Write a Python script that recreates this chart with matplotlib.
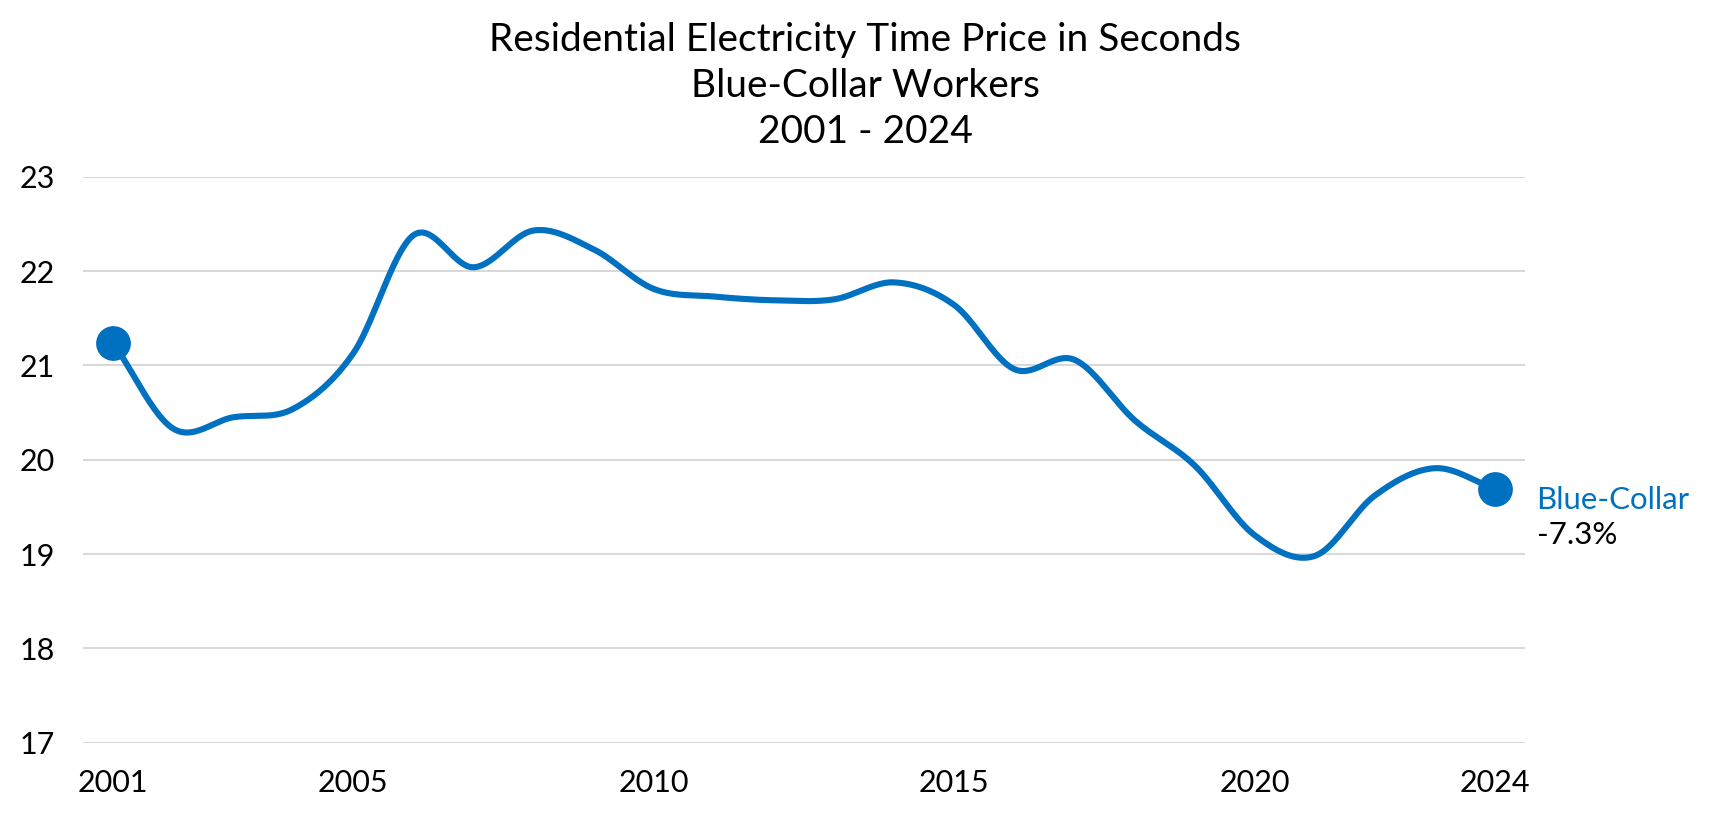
import numpy as np
import matplotlib
matplotlib.use("Agg")
import matplotlib.pyplot as plt

plt.rcParams['font.family'] = ['Lato', 'DejaVu Sans']

years = [2001, 2002, 2003, 2004, 2005, 2006, 2007, 2008, 2009, 2010, 2011, 2012,
         2013, 2014, 2015, 2016, 2017, 2018, 2019, 2020, 2021, 2022, 2023, 2024]
values = [21.24, 20.33, 20.45, 20.54, 21.13, 22.38, 22.04, 22.43, 22.23, 21.81, 21.73, 21.69,
          21.70, 21.88, 21.64, 20.96, 21.06, 20.42, 19.94, 19.20, 18.98, 19.62, 19.91, 19.69]
xticks = [2001, 2005, 2010, 2015, 2020, 2024]
yticks = [17, 18, 19, 20, 21, 22, 23]
title_lines = ["Residential Electricity Time Price in Seconds", "Blue-Collar Workers", "2001 - 2024"]
series_name = "Blue-Collar"
change_label = "-7.3%"

BLUE = "#0070C0"


def catmull_rom(x, y, n=40):
    x = np.asarray(x, float)
    y = np.asarray(y, float)
    px = np.concatenate([[2 * x[0] - x[1]], x, [2 * x[-1] - x[-2]]])
    py = np.concatenate([[2 * y[0] - y[1]], y, [2 * y[-1] - y[-2]]])
    xs, ys = [], []
    t = np.linspace(0, 1, n, endpoint=False)
    for i in range(1, len(px) - 2):
        for p, out in ((px, xs), (py, ys)):
            p0, p1, p2, p3 = p[i - 1], p[i], p[i + 1], p[i + 2]
            out.append(0.5 * ((2 * p1) + (-p0 + p2) * t +
                              (2 * p0 - 5 * p1 + 4 * p2 - p3) * t ** 2 +
                              (-p0 + 3 * p1 - 3 * p2 + p3) * t ** 3))
    xs = np.concatenate(xs + [[x[-1]]])
    ys = np.concatenate(ys + [[y[-1]]])
    return xs, ys


fig = plt.figure(figsize=(17.3, 8.32), dpi=100)
ax = fig.add_axes([0.048, 0.1073, 0.8335, 0.6803])

sx, sy = catmull_rom(years, values)
ax.plot(sx, sy, color=BLUE, lw=4.4, solid_capstyle='round', zorder=3)
ax.plot([years[0], years[-1]], [values[0], values[-1]], 'o', color=BLUE,
        markersize=24, zorder=4)

ax.set_xlim(2000.5, 2024.5)
ax.set_ylim(17, 23)
ax.set_xticks(xticks)
ax.set_yticks(yticks)
ax.grid(axis='y', color='#D9D9D9', lw=1.5)
ax.set_axisbelow(True)
for s in ax.spines.values():
    s.set_visible(False)
ax.tick_params(axis='both', length=0, labelsize=22, colors='black')
ax.tick_params(axis='y', pad=20)
ax.tick_params(axis='x', pad=19)

ax.annotate(series_name, xy=(years[-1], values[-1]), xytext=(30, -14.5),
            textcoords='offset points', color=BLUE, fontsize=22.5,
            ha='left', va='baseline')
ax.annotate(change_label, xy=(years[-1], values[-1]), xytext=(30, -39.6),
            textcoords='offset points', color='black', fontsize=22.5,
            ha='left', va='baseline')

for i, line in enumerate(title_lines):
    fig.text(0.5, 1 - (51 + 46 * i) / 832, line, ha='center', va='baseline',
             fontsize=28, color='black')

fig.savefig("out.png", dpi=100)
